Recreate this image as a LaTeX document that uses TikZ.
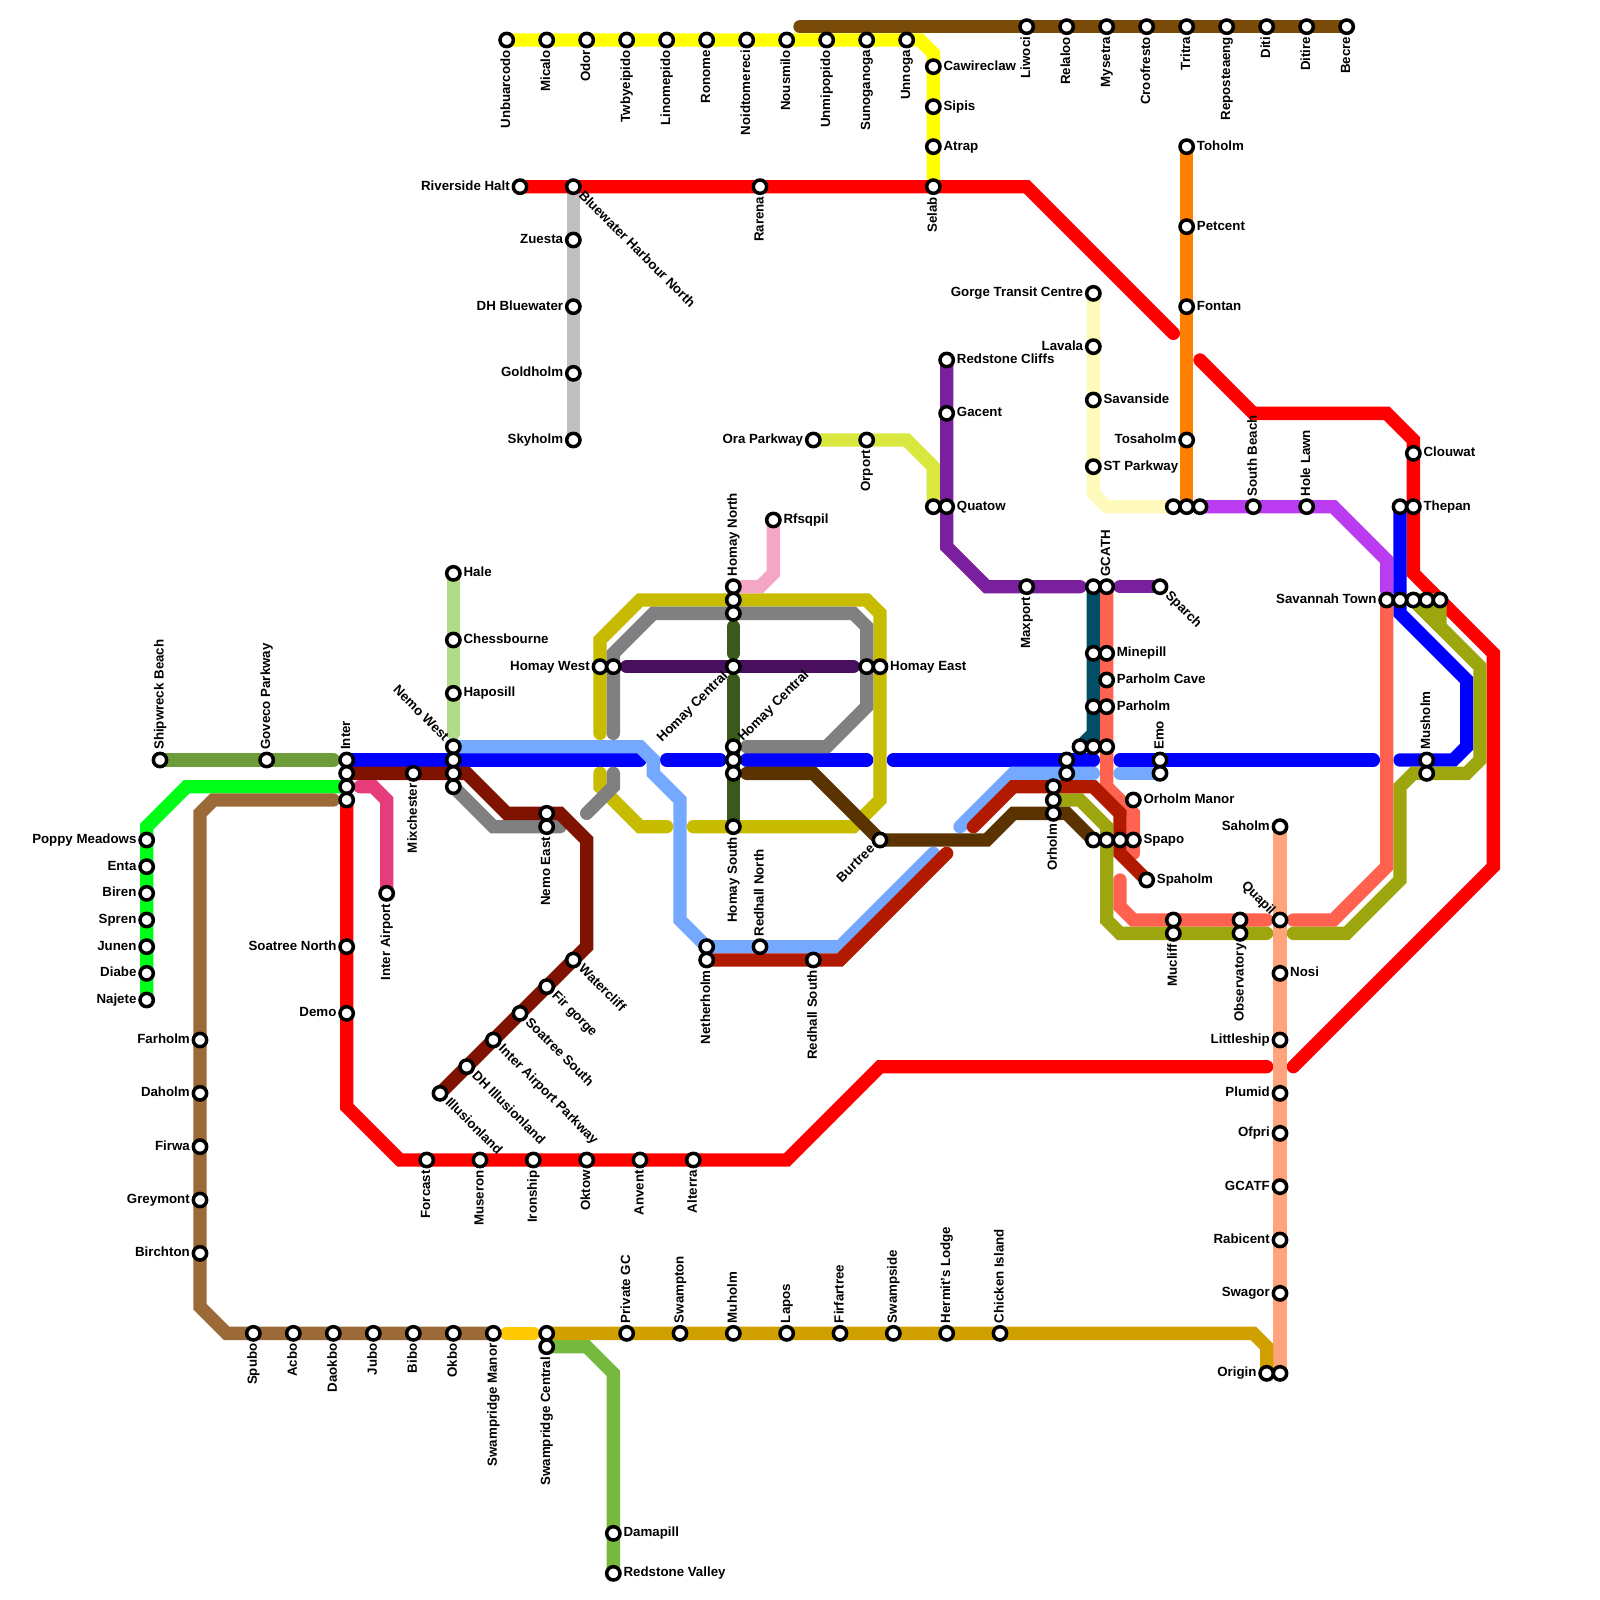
\documentclass[tikz,border=0pt]{standalone}
\usepackage{fontspec}
\setmainfont{Liberation Sans}
\pgfdeclarelayer{bg}
\pgfsetlayers{bg,main}
\definecolor{cYellow}{HTML}{FFFF00}
\definecolor{cTopBrown}{HTML}{7A4A08}
\definecolor{cRed}{HTML}{FF0000}
\definecolor{cSilver}{HTML}{C0C0C0}
\definecolor{cOrange}{HTML}{FF7F00}
\definecolor{cCream}{HTML}{FFFABC}
\definecolor{cViolet}{HTML}{BB3BF0}
\definecolor{cBlue}{HTML}{0000FF}
\definecolor{cLtBlue}{HTML}{75A9FF}
\definecolor{cMaroon}{HTML}{7F1200}
\definecolor{cGray}{HTML}{808080}
\definecolor{cOchre}{HTML}{C7BC00}
\definecolor{cDkGreen}{HTML}{3A5A1C}
\definecolor{cPink}{HTML}{F4A6C4}
\definecolor{cDkPurple}{HTML}{470F5E}
\definecolor{cDkBrown}{HTML}{5A3300}
\definecolor{cDkRed}{HTML}{B21A00}
\definecolor{cOlive}{HTML}{9DA60E}
\definecolor{cSalmon}{HTML}{FF6350}
\definecolor{cTeal}{HTML}{004F66}
\definecolor{cPurple}{HTML}{7A1F9E}
\definecolor{cLime}{HTML}{D8E83E}
\definecolor{cLtGreen}{HTML}{B0DC89}
\definecolor{cGrass}{HTML}{6D9D3B}
\definecolor{cBright}{HTML}{00FF18}
\definecolor{cMagenta}{HTML}{E63C7C}
\definecolor{cTan}{HTML}{9C6A38}
\definecolor{cGold}{HTML}{FFC800}
\definecolor{cDkGold}{HTML}{D09F00}
\definecolor{cGreen}{HTML}{77B83F}
\definecolor{cPeach}{HTML}{FFA37D}
\tikzset{
  stn/.style={circle,draw=black,fill=white,line width=0.105cm,minimum size=0.4cm,inner sep=0pt},
  lbl/.style={font=\fontsize{11.35pt}{13pt}\selectfont\bfseries,inner sep=0pt,text height=8pt,text depth=2pt},
  lblR/.style={lbl,anchor=west,xshift=0.3cm},
  lblL/.style={lbl,anchor=east,xshift=-0.3cm},
  lblU/.style={lbl,anchor=west,rotate=90,xshift=0.3cm},
  lblD/.style={lbl,anchor=east,rotate=90,xshift=-0.3cm},
  lblDR/.style={lbl,anchor=west,rotate=-45,xshift=0.3cm},
  lblUL/.style={lbl,anchor=east,rotate=-45,xshift=-0.3cm},
  lblUR/.style={lbl,anchor=west,rotate=45,xshift=0.3cm},
  lblDL/.style={lbl,anchor=east,rotate=45,xshift=-0.3cm},
  route/.style={line width=0.4cm,line cap=round,line join=miter,miter limit=4},
}
\newcommand{\St}[5]{\node[stn] (#1) at (#2,#3) {}; \node[lbl#4] (#1-t) at (#2,#3) {#5};}
\newcommand{\Sn}[3]{\node[stn] (#1) at (#2,#3) {};}
\begin{document}
\begin{tikzpicture}[x=0.4cm,y=-0.4cm]
\useasboundingbox (0,0) rectangle (120,120);
% ---- stations: yellow row
\St{unb}{38}{3}{D}{Unbuarcodo}
\St{mic}{41}{3}{D}{Micalo}
\St{odo}{44}{3}{D}{Odor}
\St{twb}{47}{3}{D}{Twbyeipido}
\St{lin}{50}{3}{D}{Linomepido}
\St{ron}{53}{3}{D}{Ronome}
\St{noi}{56}{3}{D}{Noidtomereci}
\St{nou}{59}{3}{D}{Nousmilo}
\St{unm}{62}{3}{D}{Unmipopido}
\St{sun}{65}{3}{D}{Sunoganoga}
\St{unn}{68}{3}{D}{Unnoga}
\St{caw}{70}{5}{R}{Cawireclaw}
\St{sip}{70}{8}{R}{Sipis}
\St{atr}{70}{11}{R}{Atrap}
\St{sel}{70}{14}{D}{Selab}
% top brown
\St{liw}{77}{2}{D}{Liwoci}
\St{rel}{80}{2}{D}{Relaloo}
\St{mys}{83}{2}{D}{Mysetra}
\St{cro}{86}{2}{D}{Croofresto}
\St{tri}{89}{2}{D}{Tritra}
\St{rep}{92}{2}{D}{Reposteaeng}
\St{dit}{95}{2}{D}{Diti}
\St{dir}{98}{2}{D}{Ditire}
\St{bec}{101}{2}{D}{Becre}
% red top and silver
\St{riv}{39}{14}{L}{Riverside Halt}
\St{blu}{43}{14}{DR}{Bluewater Harbour North}
\St{rar}{57}{14}{D}{Rarena}
\St{zue}{43}{18}{L}{Zuesta}
\St{dhb}{43}{23}{L}{DH Bluewater}
\St{gol}{43}{28}{L}{Goldholm}
\St{sky}{43}{33}{L}{Skyholm}
% orange
\St{toh}{89}{11}{R}{Toholm}
\St{pet}{89}{17}{R}{Petcent}
\St{fon}{89}{23}{R}{Fontan}
\St{tos}{89}{33}{L}{Tosaholm}
\Sn{xa}{88}{38}
\Sn{xb}{89}{38}
\Sn{xc}{90}{38}
% cream
\St{gor}{82}{22}{L}{Gorge Transit Centre}
\St{lav}{82}{26}{L}{Lavala}
\St{sav}{82}{30}{R}{Savanside}
\St{stp}{82}{35}{R}{ST Parkway}
% purple
\St{red}{71}{27}{R}{Redstone Cliffs}
\St{gac}{71}{31}{R}{Gacent}
\St{qua}{71}{38}{R}{Quatow}
\Sn{xd}{70}{38}
\St{max}{77}{44}{D}{Maxport}
\Sn{xe}{82}{44}
\St{gca}{83}{44}{U}{GCATH}
\St{spa}{87}{44}{DR}{Sparch}
% lime
\St{ora}{61}{33}{L}{Ora Parkway}
\St{orp}{65}{33}{D}{Orport}
% violet
\St{sbe}{94}{38}{U}{South Beach}
\St{hol}{98}{38}{U}{Hole Lawn}
\St{clo}{106}{34}{R}{Clouwat}
\Sn{xf}{105}{38}
\St{the}{106}{38}{R}{Thepan}
\St{stw}{104}{45}{L}{Savannah Town}
\Sn{xg}{105}{45}
\Sn{xh}{106}{45}
\Sn{xi}{107}{45}
\Sn{xj}{108}{45}
% left
\St{hal}{34}{43}{R}{Hale}
\St{che}{34}{48}{R}{Chessbourne}
\St{hap}{34}{52}{R}{Haposill}
\St{nem}{34}{56}{UL}{Nemo West}
\Sn{xk}{34}{57}
\Sn{xl}{34}{58}
\Sn{xm}{34}{59}
\St{int}{26}{57}{U}{Inter}
\Sn{xn}{26}{58}
\Sn{xo}{26}{59}
\Sn{xp}{26}{60}
\St{shi}{12}{57}{U}{Shipwreck Beach}
\St{gov}{20}{57}{U}{Goveco Parkway}
\St{mix}{31}{58}{D}{Mixchester}
\Sn{xq}{41}{61}
\St{nee}{41}{62}{D}{Nemo East}
\St{iap}{29}{67}{D}{Inter Airport}
\St{son}{26}{71}{L}{Soatree North}
\St{dem}{26}{76}{L}{Demo}
\St{wat}{43}{72}{DR}{Watercliff}
\St{fir}{41}{74}{DR}{Fir gorge}
\St{sos}{39}{76}{DR}{Soatree South}
\St{ipk}{37}{78}{DR}{Inter Airport Parkway}
\St{dhi}{35}{80}{DR}{DH Illusionland}
\St{ill}{33}{82}{DR}{Illusionland}
\St{frc}{32}{87}{D}{Forcast}
\St{mus}{36}{87}{D}{Museron}
\St{iro}{40}{87}{D}{Ironship}
\St{okt}{44}{87}{D}{Oktow}
\St{anv}{48}{87}{D}{Anvent}
\St{alt}{52}{87}{D}{Alterra}
% Homay
\St{how}{45}{50}{L}{Homay West}
\Sn{xr}{46}{50}
\St{hon}{55}{44}{U}{Homay North}
\Sn{xs}{55}{45}
\Sn{xt}{55}{46}
\St{hc}{55}{50}{DL}{Homay Central}
\St{hd}{55}{56}{UR}{Homay Central}
\Sn{xu}{55}{57}
\Sn{xv}{55}{58}
\St{hos}{55}{62}{D}{Homay South}
\St{rfs}{58}{39}{R}{Rfsqpil}
\Sn{xw}{65}{50}
\St{hoe}{66}{50}{R}{Homay East}
\St{bur}{66}{63}{DL}{Burtree}
\St{rhn}{57}{71}{U}{Redhall North}
\Sn{xx}{53}{71}
\St{net}{53}{72}{D}{Netherholm}
\St{rhs}{61}{72}{D}{Redhall South}
% centre
\Sn{ya}{80}{57}
\Sn{yb}{80}{58}
\Sn{yc}{79}{59}
\Sn{yd}{79}{60}
\St{orh}{79}{61}{D}{Orholm}
\St{emo}{87}{57}{U}{Emo}
\Sn{ye}{87}{58}
\Sn{yf}{82}{49}
\St{min}{83}{49}{R}{Minepill}
\St{pac}{83}{51}{R}{Parholm Cave}
\Sn{yg}{82}{53}
\St{par}{83}{53}{R}{Parholm}
\Sn{yh}{81}{56}
\Sn{yi}{82}{56}
\Sn{yj}{83}{56}
\St{orm}{85}{60}{R}{Orholm Manor}
\Sn{yk}{82}{63}
\Sn{yl}{83}{63}
\Sn{ym}{84}{63}
\St{spp}{85}{63}{R}{Spapo}
\St{sph}{86}{66}{R}{Spaholm}
\Sn{yn}{88}{69}
\St{muc}{88}{70}{D}{Mucliff}
\Sn{yo}{93}{69}
\St{obs}{93}{70}{D}{Observatory}
\St{qup}{96}{69}{UL}{Quapil}
\St{yp}{107}{57}{U}{Musholm}
\Sn{yq}{107}{58}
% peach
\St{sah}{96}{62}{L}{Saholm}
\St{nos}{96}{73}{R}{Nosi}
\St{lit}{96}{78}{L}{Littleship}
\St{plu}{96}{82}{L}{Plumid}
\St{ofp}{96}{85}{L}{Ofpri}
\St{gcf}{96}{89}{L}{GCATF}
\St{rab}{96}{93}{L}{Rabicent}
\St{swa}{96}{97}{L}{Swagor}
\St{ori}{95}{103}{L}{Origin}
\Sn{yr}{96}{103}
% bright green
\St{pop}{11}{63}{L}{Poppy Meadows}
\St{ent}{11}{65}{L}{Enta}
\St{bir}{11}{67}{L}{Biren}
\St{spr}{11}{69}{L}{Spren}
\St{jun}{11}{71}{L}{Junen}
\St{dia}{11}{73}{L}{Diabe}
\St{naj}{11}{75}{L}{Najete}
% tan
\St{far}{15}{78}{L}{Farholm}
\St{dah}{15}{82}{L}{Daholm}
\St{frw}{15}{86}{L}{Firwa}
\St{gre}{15}{90}{L}{Greymont}
\St{brc}{15}{94}{L}{Birchton}
\St{spu}{19}{100}{D}{Spubo}
\St{acb}{22}{100}{D}{Acbo}
\St{dao}{25}{100}{D}{Daokbo}
\St{jub}{28}{100}{D}{Jubo}
\St{bib}{31}{100}{D}{Bibo}
\St{okb}{34}{100}{D}{Okbo}
\St{swm}{37}{100}{D}{Swampridge Manor}
% gold row
\Sn{zm}{41}{100}
\St{swc}{41}{101}{D}{Swampridge Central}
\St{pri}{47}{100}{U}{Private GC}
\St{swt}{51}{100}{U}{Swampton}
\St{muh}{55}{100}{U}{Muholm}
\St{lap}{59}{100}{U}{Lapos}
\St{ffr}{63}{100}{U}{Firfartree}
\St{sws}{67}{100}{U}{Swampside}
\St{her}{71}{100}{U}{Hermit's Lodge}
\St{chi}{75}{100}{U}{Chicken Island}
\St{dam}{46}{115}{R}{Damapill}
\St{rev}{46}{118}{R}{Redstone Valley}
% free ends
\coordinate (eBrown) at (60,2);
\coordinate (eRedA) at (88,25);
\coordinate (eRedB) at (90,27);
\coordinate (eRedC) at (97,80);
\coordinate (eRedD) at (95,80);
\coordinate (eViolet) at (104,44.3);
\coordinate (eBlA) at (48,57);
\coordinate (eBlB) at (50,57);
\coordinate (eBlC) at (54,57);
\coordinate (eBlD) at (56,57);
\coordinate (eBlE) at (65,57);
\coordinate (eBlF) at (67,57);
\coordinate (eBlG) at (82,57);
\coordinate (eBlH) at (84,57);
\coordinate (eBlI) at (103,57);
\coordinate (eBlJ) at (105,57);
\coordinate (eLbA) at (70,64);
\coordinate (eLbB) at (72,62);
\coordinate (eLbC) at (82,58);
\coordinate (eLbD) at (84,58);
\coordinate (eGyA) at (42,62);
\coordinate (eGyB) at (46,55);
\coordinate (eGyC) at (56,56);
\coordinate (eGyD) at (46,58);
\coordinate (eGyE) at (44,61);
\coordinate (eOcA) at (45,55);
\coordinate (eOcB) at (52,62);
\coordinate (eOcC) at (50,62);
\coordinate (eOcD) at (45,58);
\coordinate (eDgA) at (55,47);
\coordinate (eDgB) at (55,49);
\coordinate (eDgC) at (55,51);
\coordinate (ePuA) at (47,50);
\coordinate (ePuB) at (64,50);
\coordinate (eBrA) at (56,58);
\coordinate (eDrA) at (71,64);
\coordinate (eDrB) at (73,62);
\coordinate (eSaA) at (85,64);
\coordinate (eSaB) at (84,66);
\coordinate (eSaC) at (95,69);
\coordinate (eSaD) at (97,69);
\coordinate (eOlA) at (95,70);
\coordinate (eOlB) at (97,70);
\coordinate (ePrA) at (81,44);
\coordinate (ePrB) at (84,44);
\coordinate (eGrS) at (25,57);
\coordinate (eMaA) at (27,59);
\coordinate (eTnA) at (25,60);
\coordinate (eGdA) at (38,100);
\coordinate (eGdB) at (40,100);
\coordinate (eLgA) at (34,55);
\begin{pgfonlayer}{bg}
\fill[white] (0,0) rectangle (120,120);
\draw[route,cCream] (gor.center) -- (82,37) -- (83,38) -- (xa.center);
\draw[route,cSilver] (blu.center) -- (sky.center);
\draw[route,cYellow] (unb.center) -- (69,3) -- (70,4) -- (sel.center);
\draw[route,cTopBrown] (eBrown) -- (bec.center);
\draw[route,cRed] (riv.center) -- (77,14) -- (eRedA);
\draw[route,cRed] (eRedB) -- (94,31) -- (104,31) -- (106,33) -- (106,43) -- (112,49) -- (112,65) -- (eRedC);
\draw[route,cRed] (eRedD) -- (66,80) -- (59,87) -- (30,87) -- (26,83) -- (xp.center);
\draw[route,cOrange] (toh.center) -- (xb.center);
\draw[route,cViolet] (xc.center) -- (100,38) -- (104,42) -- (eViolet);
\draw[route,cBlue] (int.center) -- (eBlA);
\draw[route,cBlue] (eBlB) -- (eBlC);
\draw[route,cBlue] (eBlD) -- (eBlE);
\draw[route,cBlue] (eBlF) -- (eBlG);
\draw[route,cBlue] (eBlH) -- (eBlI);
\draw[route,cBlue] (xf.center) -- (105,46) -- (110,51) -- (110,56) -- (109,57) -- (eBlJ);
\draw[route,cLtGreen] (hal.center) -- (eLgA);
\draw[route,cLtBlue] (nem.center) -- (48,56) -- (49,57) -- (49,58) -- (51,60) -- (51,69) -- (53,71) -- (63,71) -- (eLbA);
\draw[route,cLtBlue] (eLbB) -- (76,58) -- (eLbC);
\draw[route,cLtBlue] (eLbD) -- (ye.center);
\draw[route,cGray] (xm.center) -- (37,62) -- (eGyA);
\draw[route,cOchre] (eOcA) -- (45,48) -- (48,45) -- (65,45) -- (66,46) -- (66,60) -- (64,62) -- (eOcB);
\draw[route,cOchre] (eOcC) -- (48,62) -- (45,59) -- (eOcD);
\draw[route,cGray] (eGyB) -- (46,49) -- (49,46) -- (64,46) -- (65,47) -- (65,53) -- (62,56) -- (eGyC);
\draw[route,cGray] (eGyD) -- (46,59) -- (eGyE);
\draw[route,cMaroon] (xn.center) -- (35,58) -- (38,61) -- (42,61) -- (44,63) -- (44,71) -- (ill.center);
\draw[route,cDkGreen] (eDgA) -- (eDgB);
\draw[route,cDkGreen] (eDgC) -- (hos.center);
\draw[route,cPink] (hon.center) -- (57,44) -- (58,43) -- (rfs.center);
\draw[route,cDkPurple] (ePuA) -- (ePuB);
\draw[route,cLime] (ora.center) -- (68,33) -- (70,35) -- (xd.center);
\draw[route,cPurple] (red.center) -- (71,41) -- (74,44) -- (ePrA);
\draw[route,cPurple] (ePrB) -- (spa.center);
\draw[route,cTeal] (xe.center) -- (82,55) -- (yh.center);
\draw[route,cTeal] (82,55) -- (yi.center);
\draw[route,cOlive] (yd.center) -- (81,60) -- (83,62) -- (83,69) -- (84,70) -- (eOlA);
\draw[route,cOlive] (xh.center) -- (111,50) -- (111,57) -- (110,58) -- (106,58) -- (105,59) -- (105,66) -- (101,70) -- (eOlB);
\fill[cOlive,draw=cOlive,line width=0.4cm,line join=round] (xh.center) -- (xj.center) -- (108,47) -- cycle;
\draw[route,cSalmon] (gca.center) -- (83,59) -- (85,61) -- (eSaA);
\draw[route,cSalmon] (eSaB) -- (84,68) -- (85,69) -- (eSaC);
\draw[route,cSalmon] (eSaD) -- (100,69) -- (104,65) -- (stw.center);
\draw[route,cPeach] (sah.center) -- (yr.center);
\draw[route,cDkRed] (net.center) -- (63,72) -- (eDrA);
\draw[route,cDkRed] (eDrB) -- (76,59) -- (82,59) -- (84,61) -- (84,64) -- (sph.center);
\draw[route,cDkBrown] (eBrA) -- (61,58) -- (bur.center) -- (74,63) -- (76,61) -- (80,61) -- (yk.center);
\draw[route,cGrass] (shi.center) -- (eGrS);
\draw[route,cBright] (xo.center) -- (14,59) -- (11,62) -- (naj.center);
\draw[route,cMagenta] (eMaA) -- (28,59) -- (29,60) -- (iap.center);
\draw[route,cTan] (eTnA) -- (16,60) -- (15,61) -- (15,98) -- (17,100) -- (swm.center);
\draw[route,cGold] (eGdA) -- (eGdB);
\draw[route,cDkGold] (zm.center) -- (94,100) -- (95,101) -- (ori.center);
\draw[route,cGreen] (swc.center) -- (44,101) -- (46,103) -- (rev.center);
\end{pgfonlayer}
\end{tikzpicture}
\end{document}
